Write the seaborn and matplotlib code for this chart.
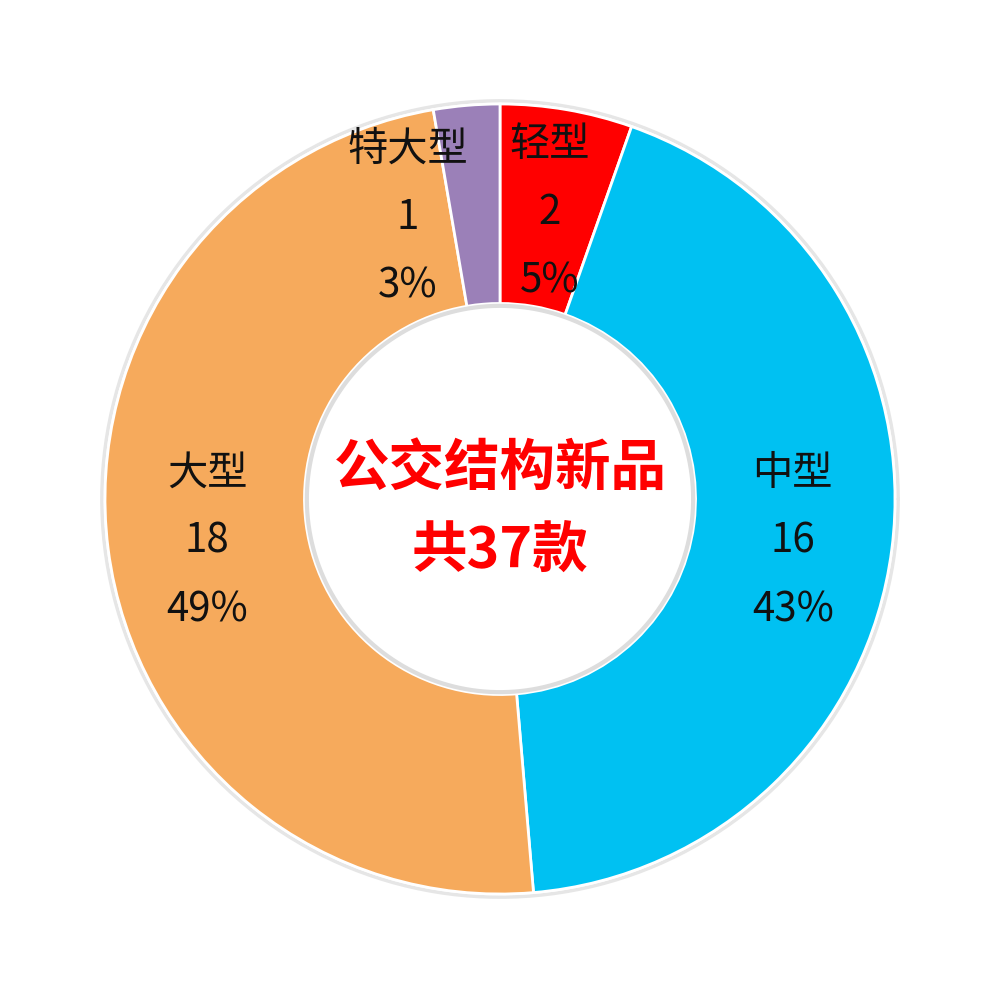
import numpy as np
import matplotlib
matplotlib.use("Agg")
import matplotlib.pyplot as plt
import seaborn as sns

# data
categories = ["轻型", "中型", "大型", "特大型"]
counts = [2, 16, 18, 1]
percents = ["5%", "43%", "49%", "3%"]
colors = ["#FF0000", "#00C1F2", "#F6AA5C", "#9B80B8"]
center_title = "公交结构新品\n共37款"

sns.set_theme(style="white")
plt.rcParams["font.family"] = ["Noto Sans CJK SC", "DejaVu Sans"]

fig = plt.figure(figsize=(10, 10.03), dpi=100)
ax = fig.add_axes([0, 0, 1, 1])

R = 1.0
ring_w = 0.505
wedges, _ = ax.pie(counts, colors=colors, startangle=90, counterclock=False,
                   radius=R, wedgeprops=dict(width=ring_w, edgecolor="white", linewidth=2))

# soft grey rims like the original
t = np.linspace(0, 2 * np.pi, 400)
ax.plot(np.cos(t) * (R + 0.008), np.sin(t) * (R + 0.008), color="#E6E6E6", lw=2.5, zorder=0)
ax.plot(np.cos(t) * (R - ring_w - 0.006), np.sin(t) * (R - ring_w - 0.006), color="#DDDDDD", lw=3, zorder=3)

# labels at mid-ring; the tiny slice label is nudged left like excel does
label_r = R - ring_w / 2
nudge = [(0.0, 0.0), (0.0, 0.0), (0.0, 0.0), (-0.17, -0.02)]
for w, cat, n, p, (dx, dy) in zip(wedges, categories, counts, percents, nudge):
    ang = np.deg2rad((w.theta1 + w.theta2) / 2)
    x = label_r * np.cos(ang) + dx
    y = label_r * np.sin(ang) + dy
    ax.text(x, y - 0.01, f"{cat}\n{n}\n{p}", ha="center", va="center",
            fontsize=29, linespacing=1.85, color="#111111")

ax.text(0, -0.025, center_title, ha="center", va="center", fontsize=40,
        fontweight="bold", color="#FF0000", linespacing=1.6)

ax.set_xlim(-500 / 395, 500 / 395)
ax.set_ylim(-503 / 395, 500 / 395)
ax.set_aspect("equal")
ax.axis("off")

fig.savefig("out.png", dpi=100, facecolor="white")
